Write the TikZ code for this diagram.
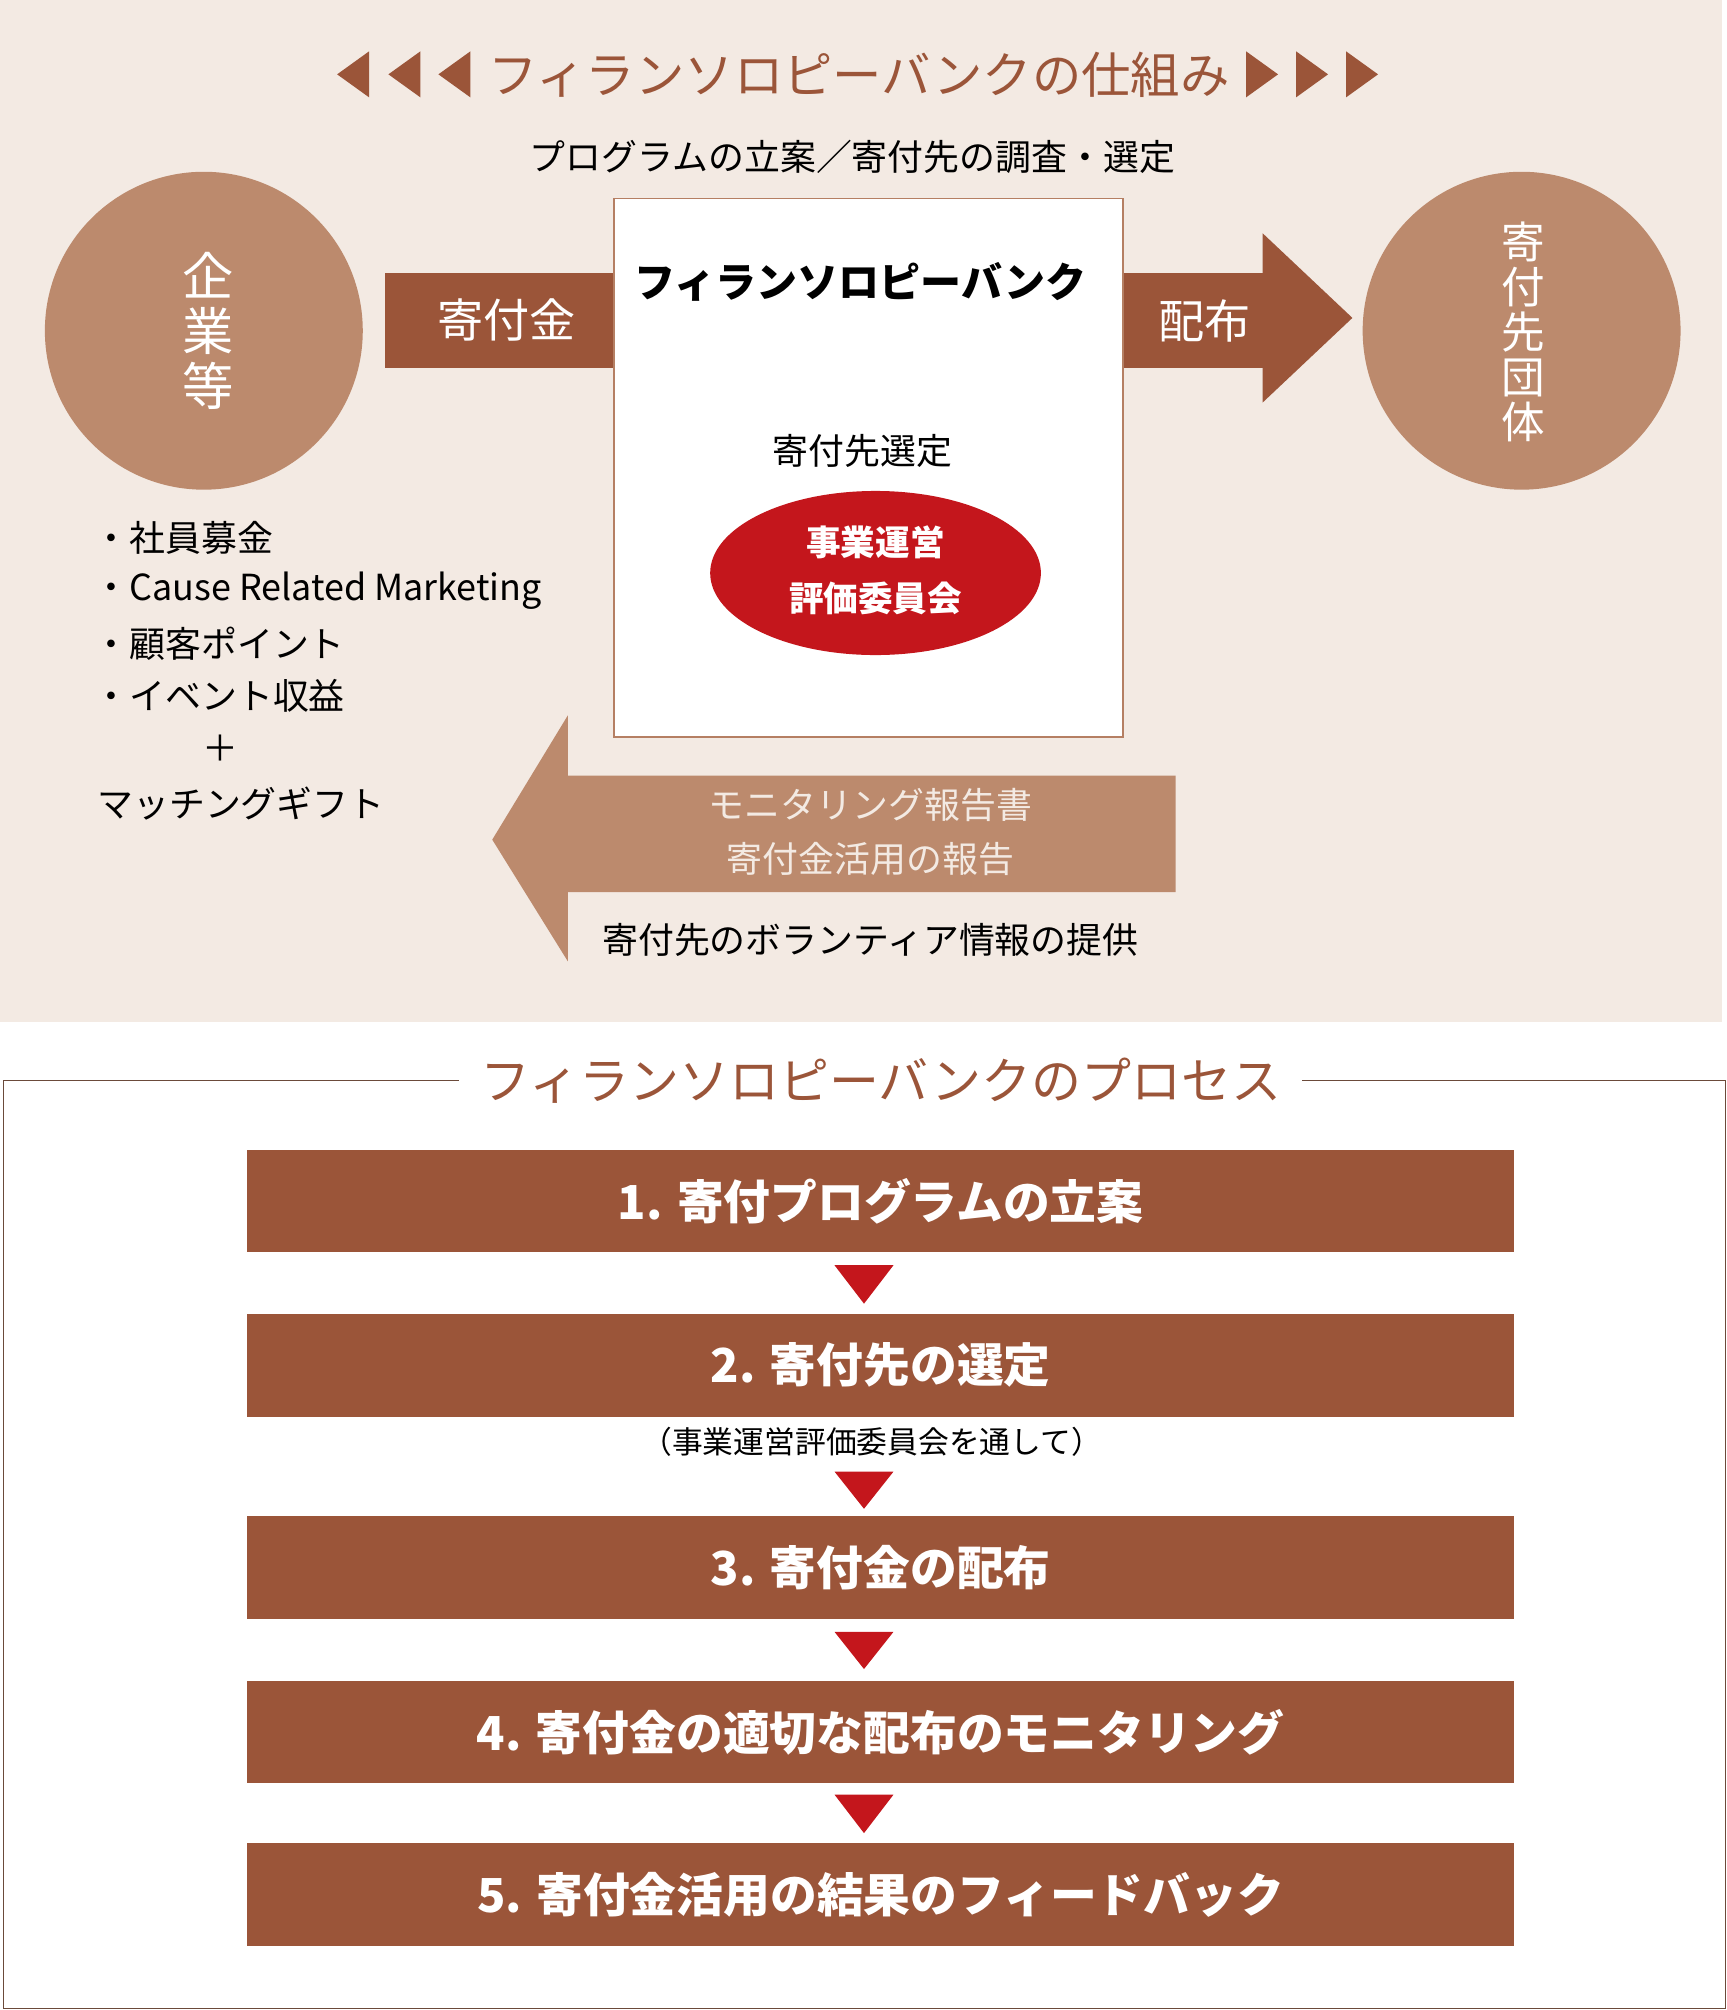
\documentclass[tikz,border=0pt]{standalone}
\usepackage{fontspec}
\usetikzlibrary{shapes.geometric}
\setmainfont{Noto Sans CJK JP}
\definecolor{beige}{HTML}{F3EAE3}
\definecolor{dbrown}{HTML}{9B5539}
\definecolor{lbrown}{HTML}{BC8A6D}
\definecolor{jred}{HTML}{C4161C}
\definecolor{frame}{HTML}{6B4A3A}
\begin{document}
\begin{tikzpicture}[x=1pt,y=-1pt,
  every node/.style={inner sep=0pt,outer sep=0pt},
  lbl/.style={font=\fontsize{28}{28}\selectfont, text=black},
  stepbar/.style={fill=dbrown, draw=none, minimum width=988pt, minimum height=80pt, text=white, font=\bfseries\fontsize{36.5}{36.5}\selectfont},
  downtri/.style={fill=jred, draw=none},
  tri/.style={fill=dbrown, draw=none},
  circ/.style={circle, fill=lbrown, minimum size=248pt, text=white}
]
\useasboundingbox (0,0) rectangle (1347,1568);
% top panel
\fill[beige] (0,0) rectangle (1343,797);
% title
\node[text=dbrown, font=\fontsize{38.5}{38.5}\selectfont] (title) at (670,58) {フィランソロピーバンクの仕組み};
\foreach \x in {263,303,342} \fill[tri] (\x,58) -- (\x+25,40) -- (\x+25,76) -- cycle;
\foreach \x in {997,1036,1075} \fill[tri] (\x,58) -- (\x-25,40) -- (\x-25,76) -- cycle;
\node[lbl] (sub) at (665,122) {プログラムの立案／寄付先の調査・選定};
% circles
\node[circ] (corp) at (159,258) {};
\node[text=white, font=\fontsize{40}{43}\selectfont, align=center] (corptxt) at (162,258) {企\\業\\等};
\node[circ] (recv) at (1187,258) {};
\node[text=white, font=\fontsize{34}{35}\selectfont, align=center] (recvtxt) at (1188,259) {寄\\付\\先\\団\\体};
% centre box
\node[draw=lbrown!80!dbrown, line width=1pt, fill=white, minimum width=397pt, minimum height=420pt] (bank) at (677.5,365) {};
\node[font=\bfseries\fontsize{32}{32}\selectfont] (banktxt) at (671,220) {フィランソロピーバンク};
\node[lbl] (sel) at (673,352) {寄付先選定};
\node[ellipse, fill=jred, minimum width=258pt, minimum height=128pt] (comm) at (683,447) {};
\node[text=white, font=\bfseries\fontsize{27}{44}\selectfont, align=center] (commtxt) at (683,445) {事業運営\\評価委員会};
% donation arrow
\fill[dbrown] (300,213) rectangle (478,287);
\node[text=white, font=\fontsize{36}{36}\selectfont] (don) at (395,250) {寄付金};
% distribution arrow
\fill[dbrown] (877,213) -- (985,213) -- (985,182) -- (1055,248) -- (985,314) -- (985,287) -- (877,287) -- cycle;
\node[text=white, font=\fontsize{36}{36}\selectfont] (dist) at (940,250) {配布};
% bullets
\node[lbl, anchor=west] (b1) at (73,420) {・社員募金};
\node[lbl, anchor=west] (b2) at (73,461) {・Cause Related Marketing};
\node[lbl, anchor=west] (b3) at (73,502) {・顧客ポイント};
\node[lbl, anchor=west] (b4) at (73,543) {・イベント収益};
\node[lbl] (plus) at (172,584) {＋};
\node[lbl, anchor=west] (b5) at (76,627) {マッチングギフト};
% report arrow
\fill[lbrown] (917,605) -- (443,605) -- (443,558) -- (384,655) -- (443,750) -- (443,696) -- (917,696) -- cycle;
\node[font=\fontsize{28}{42}\selectfont, text=beige, align=center] (rep) at (679,649) {モニタリング報告書\\寄付金活用の報告};
\node[lbl] (vol) at (679,733) {寄付先のボランティア情報の提供};
% process frame
\node[font=\fontsize{39}{39}\selectfont, text=dbrown] (ptitle) at (687,843) {フィランソロピーバンクのプロセス};
\draw[frame, line width=1pt] (358,843) -- (3,843) -- (3,1567) -- (1346,1567) -- (1346,843) -- (1016,843);
% steps
\node[stepbar] (s1) at (687,937) {1. 寄付プログラムの立案};
\node[stepbar] (s2) at (687,1065) {2. 寄付先の選定};
\node[stepbar] (s3) at (687,1223) {3. 寄付金の配布};
\node[stepbar] (s4) at (687,1351) {4. 寄付金の適切な配布のモニタリング};
\node[stepbar] (s5) at (687,1478) {5. 寄付金活用の結果のフィードバック};
\node[font=\fontsize{24}{24}\selectfont] (note) at (680,1125) {（事業運営評価委員会を通して）};
% arrows between
\fill[downtri] (651,987) -- (697,987) -- (674,1017) -- cycle;
\fill[downtri] (651,1148) -- (697,1148) -- (674,1177) -- cycle;
\fill[downtri] (651,1273) -- (697,1273) -- (674,1302) -- cycle;
\fill[downtri] (651,1400) -- (697,1400) -- (674,1430) -- cycle;
\end{tikzpicture}
\end{document}
